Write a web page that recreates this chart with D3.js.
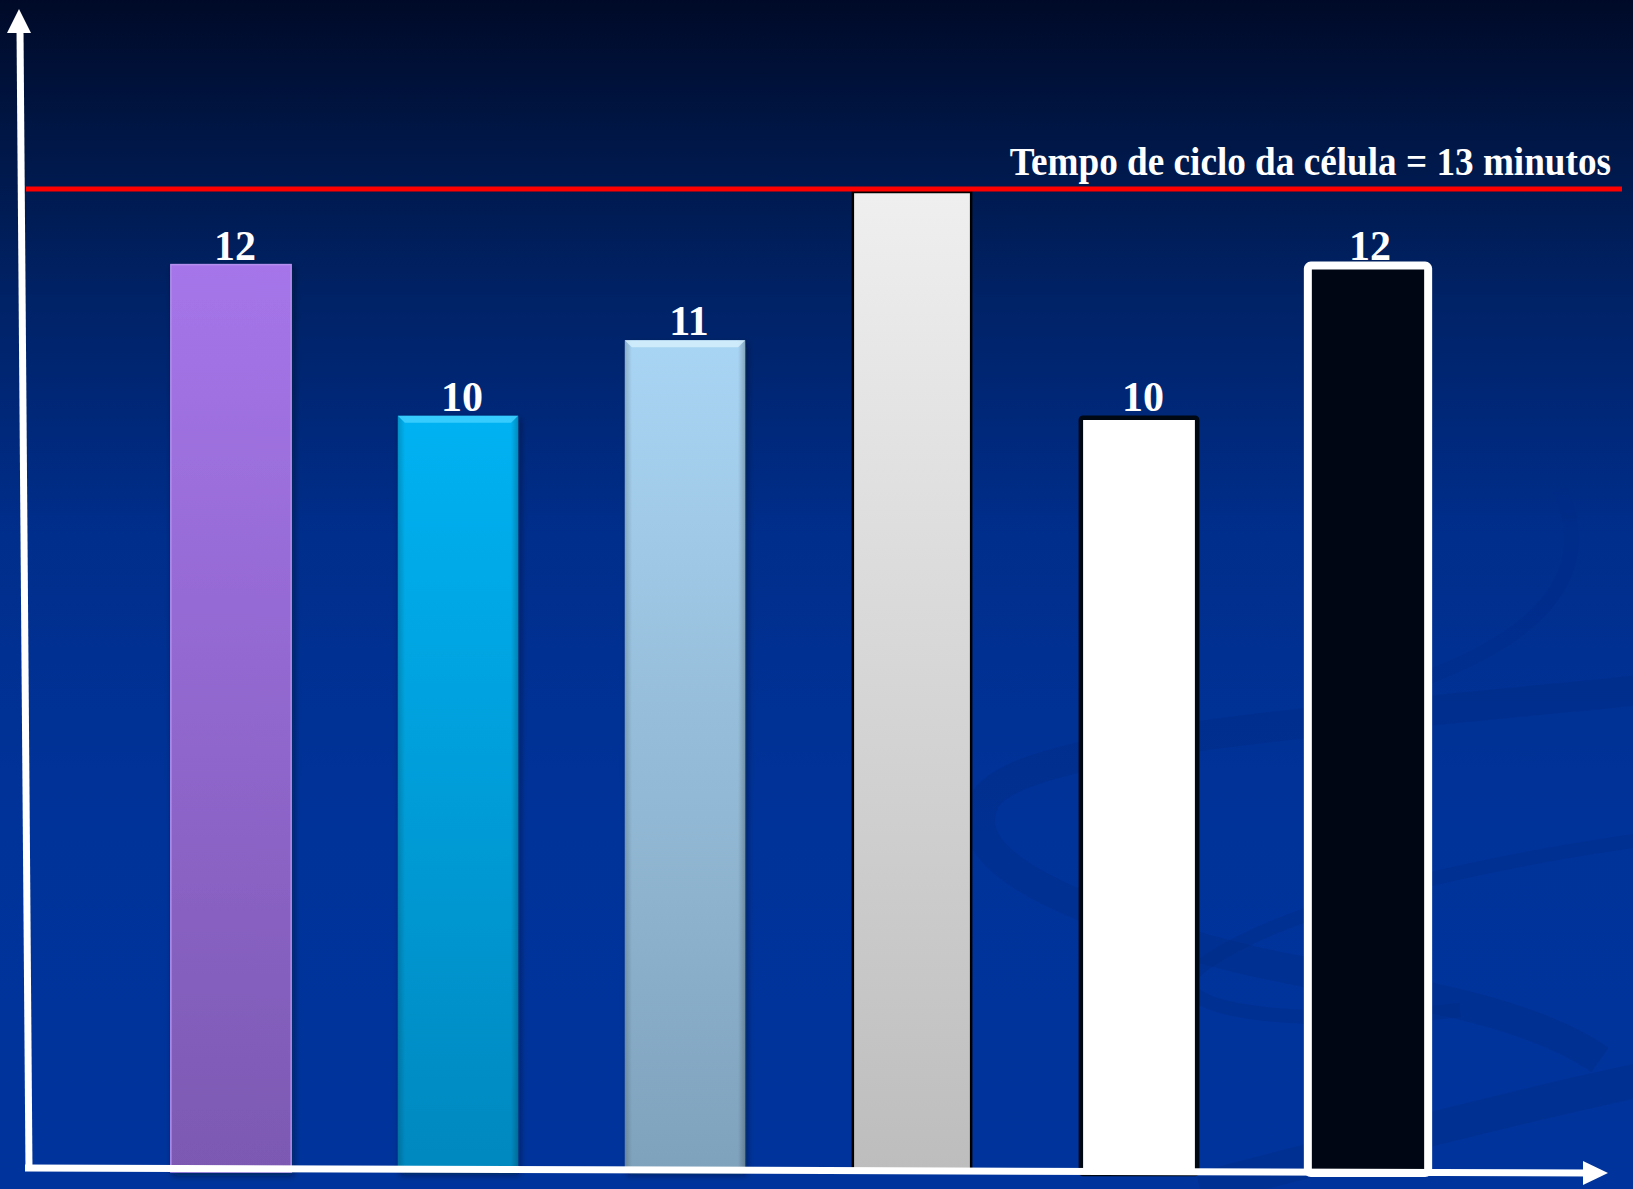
<!DOCTYPE html>
<html lang="pt">
  <head>
    <meta charset="utf-8">
    <title>Tempo de ciclo da célula</title>
    <script src="https://d3js.org/d3.v7.js"></script>
    <style>
      body { margin: 0; background: #00339a; }
      svg { display: block; }
    </style>
  </head>
  <body>
    <script>

      // data
      const categories = ["op1", "op2", "op3", "op4", "op5", "op6"];
      const values = [12, 10, 11, 13, 10, 12];
      const valueLabels = ["12", "10", "11", "", "10", "12"];
      const cycleTime = [13];
      const cycleLabel = ["Tempo de ciclo da célula = 13 minutos"];

      const w = 1633;
      const h = 1189;

      const xScale = d3.scaleBand()
                       .domain(categories)
                       .range([117.5, 1479.5])
                       .paddingInner(0.47)
                       .paddingOuter(0.235);

      const yScale = d3.scaleLinear()
                       .domain([0, 13])
                       .range([1172, 189]);

      const svg = d3.select("body")
                    .append("svg")
                    .attr("width", w)
                    .attr("height", h);

      const defs = svg.append("defs");

      // vertical gradient helper
      function vGrad(id, stops) {
        const g = defs.append("linearGradient")
                      .attr("id", id)
                      .attr("x1", 0).attr("y1", 0)
                      .attr("x2", 0).attr("y2", 1);
        stops.forEach(s => g.append("stop").attr("offset", s[0]).attr("stop-color", s[1]));
      }

      vGrad("bg", [[0, "#000a28"], [0.12, "#001747"], [0.25, "#002266"], [0.45, "#002e8c"], [0.7, "#00339a"], [1, "#00349c"]]);
      vGrad("purple", [[0, "#a575e9"], [1, "#7c59b2"]]);
      vGrad("cyan", [[0, "#00b2f2"], [1, "#0488bf"]]);
      vGrad("lblue", [[0, "#a9d5f4"], [1, "#7fa2bc"]]);
      vGrad("gray", [[0, "#efefef"], [1, "#bdbdbd"]]);

      // side shading for the bevelled bars
      const side = defs.append("linearGradient").attr("id", "side")
                       .attr("x1", 0).attr("y1", 0).attr("x2", 1).attr("y2", 0);
      side.append("stop").attr("offset", 0).attr("stop-color", "#000").attr("stop-opacity", 0.18);
      side.append("stop").attr("offset", 0.06).attr("stop-color", "#000").attr("stop-opacity", 0);
      side.append("stop").attr("offset", 0.94).attr("stop-color", "#000").attr("stop-opacity", 0);
      side.append("stop").attr("offset", 1).attr("stop-color", "#000").attr("stop-opacity", 0.22);

      const shadow = defs.append("filter").attr("id", "shadow")
                         .attr("x", "-10%").attr("y", "-5%").attr("width", "130%").attr("height", "115%");
      shadow.append("feDropShadow").attr("dx", 2).attr("dy", 3).attr("stdDeviation", 3)
            .attr("flood-color", "#000820").attr("flood-opacity", 0.5);

      // background
      svg.append("rect")
         .attr("x", 0).attr("y", 0)
         .attr("width", w).attr("height", h)
         .attr("fill", "url(#bg)");

      // faint swirls in the backdrop
      const swirl = svg.append("g")
                       .attr("fill", "none")
                       .attr("stroke", "#002c88")
                       .attr("stroke-opacity", 0.45);
      swirl.append("path")
           .attr("d", "M1640,690 C1350,720 1020,740 985,800 C955,860 1060,900 1160,935 C1300,985 1500,990 1600,1060")
           .attr("stroke-width", 30);
      swirl.append("path")
           .attr("d", "M1640,840 C1500,860 1300,900 1210,960 C1130,1010 1300,1030 1460,1010")
           .attr("stroke-width", 14);
      swirl.append("path")
           .attr("d", "M1560,490 C1600,580 1530,640 1420,680")
           .attr("stroke-width", 14)
           .attr("stroke-opacity", 0.3);
      swirl.append("path")
           .attr("d", "M1200,1189 C1350,1150 1500,1110 1640,1080")
           .attr("stroke-width", 34);

      // bars
      const plot = svg.append("g").attr("id", "plot");
      const bx = i => xScale(categories[i]);
      const bw = xScale.bandwidth();

      values.forEach((v, i) => {
        const x = bx(i), y = yScale(v), hh = yScale(0) - yScale(v);
        if (i === 0) {
          plot.append("rect").attr("x", x).attr("y", y).attr("width", bw).attr("height", hh)
              .attr("fill", "url(#purple)").attr("stroke", "#b48fee").attr("stroke-width", 1.5)
              .attr("filter", "url(#shadow)");
        } else if (i === 1 || i === 2) {
          const fill = i === 1 ? "url(#cyan)" : "url(#lblue)";
          const hi = i === 1 ? "#40d0ff" : "#d4eefc";
          plot.append("rect").attr("x", x).attr("y", y).attr("width", bw).attr("height", hh)
              .attr("fill", fill).attr("filter", "url(#shadow)");
          plot.append("rect").attr("x", x).attr("y", y).attr("width", bw).attr("height", hh)
              .attr("fill", "url(#side)");
          plot.append("path")
              .attr("d", `M${x},${y} L${x + bw},${y} L${x + bw - 7},${y + 7} L${x + 7},${y + 7} Z`)
              .attr("fill", hi).attr("opacity", 0.85);
        } else if (i === 3) {
          plot.append("rect").attr("x", x + 1).attr("y", y + 3).attr("width", bw - 2).attr("height", hh - 3)
              .attr("fill", "url(#gray)").attr("stroke", "#000").attr("stroke-width", 2.5);
        } else if (i === 4) {
          plot.append("rect").attr("x", x + 2).attr("y", y + 2).attr("width", bw - 4).attr("height", hh)
              .attr("rx", 2)
              .attr("fill", "#ffffff").attr("stroke", "#000814").attr("stroke-width", 4.5);
        } else {
          plot.append("rect").attr("x", x + 2).attr("y", y + 1).attr("width", bw).attr("height", hh)
              .attr("rx", 3)
              .attr("fill", "#000614").attr("stroke", "#ffffff").attr("stroke-width", 8);
        }
      });

      // value labels
      svg.append("g")
         .selectAll("text")
         .data(values)
         .enter().append("text")
         .attr("x", (d, i) => bx(i) + bw / 2 + 4)
         .attr("y", d => yScale(d) - 5)
         .attr("text-anchor", "middle")
         .attr("font-family", "'Liberation Serif', 'Times New Roman', serif")
         .attr("font-weight", "bold")
         .attr("font-size", 42)
         .attr("fill", "#ffffff")
         .text((d, i) => valueLabels[i]);

      // cycle time line
      svg.append("line")
         .attr("x1", 26).attr("x2", 1622)
         .attr("y1", yScale(cycleTime[0])).attr("y2", yScale(cycleTime[0]))
         .attr("stroke", "#ff0000")
         .attr("stroke-width", 5);

      svg.append("text")
         .attr("transform", `translate(1611, ${yScale(cycleTime[0]) - 14}) scale(0.93, 1)`)
         .attr("text-anchor", "end")
         .attr("font-family", "'Liberation Serif', 'Times New Roman', serif")
         .attr("font-weight", "bold")
         .attr("font-size", 40)
         .attr("fill", "#ffffff")
         .text(cycleLabel[0]);

      // axes drawn as white arrows
      const axes = svg.append("g").attr("fill", "#ffffff");
      axes.append("line")
          .attr("x1", 29).attr("y1", yScale(0) - 1)
          .attr("x2", 20).attr("y2", 30)
          .attr("stroke", "#ffffff").attr("stroke-width", 7);
      axes.append("path").attr("d", "M19,9 L31,33 L7,33 Z");

      axes.append("line")
          .attr("x1", 25).attr("y1", yScale(0) - 4)
          .attr("x2", 1590).attr("y2", yScale(0) + 1)
          .attr("stroke", "#ffffff").attr("stroke-width", 7);
      axes.append("path").attr("d", `M1608,${yScale(0) + 1} L1583,${yScale(0) - 11} L1583,${yScale(0) + 13} Z`);

    </script>
  </body>
</html>
